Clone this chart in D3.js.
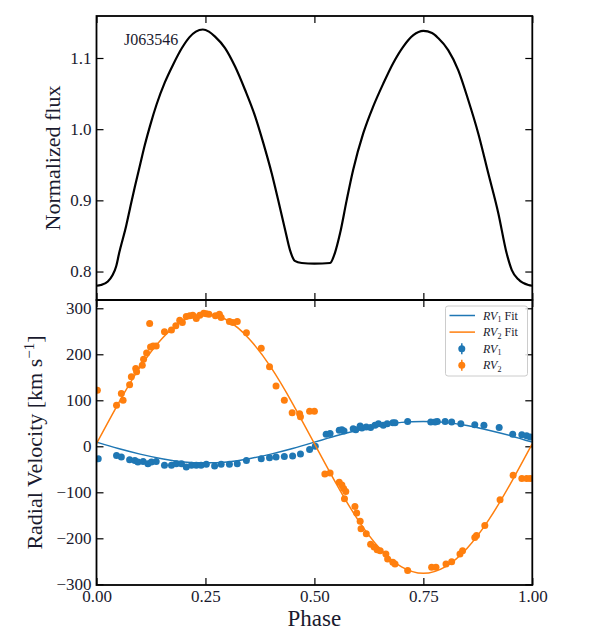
<!DOCTYPE html>
<html>
<head>
<meta charset="utf-8">
<script src="https://cdn.jsdelivr.net/npm/d3@7"></script>
<style>
  body { margin: 0; background: #fff; }
  svg text { font-family: "Liberation Serif", "DejaVu Serif", serif; fill: #1a1a2e; }
</style>
</head>
<body>
<svg id="chart" width="605" height="637"></svg>
<script>
// Light curve (phase, normalized flux)
var lcPhase = [0.000, 0.010, 0.026, 0.037, 0.045, 0.052, 0.068, 0.077, 0.088, 0.100, 0.111, 0.123, 0.138, 0.157, 0.176, 0.196, 0.213, 0.228, 0.244, 0.258, 0.272, 0.295, 0.318, 0.341, 0.364, 0.383, 0.402, 0.417, 0.433, 0.444, 0.455, 0.471, 0.500, 0.536, 0.547, 0.559, 0.574, 0.589, 0.612, 0.635, 0.658, 0.681, 0.704, 0.727, 0.750, 0.770, 0.784, 0.807, 0.830, 0.853, 0.876, 0.899, 0.922, 0.941, 0.953, 0.968, 0.991, 1.000];
var lcFlux  = [0.780, 0.781, 0.786, 0.795, 0.807, 0.826, 0.864, 0.889, 0.919, 0.950, 0.978, 1.005, 1.035, 1.066, 1.091, 1.114, 1.129, 1.137, 1.140, 1.137, 1.130, 1.114, 1.088, 1.055, 1.018, 0.980, 0.938, 0.900, 0.858, 0.830, 0.815, 0.812, 0.811, 0.812, 0.826, 0.854, 0.900, 0.943, 0.994, 1.032, 1.064, 1.093, 1.116, 1.132, 1.138, 1.135, 1.128, 1.111, 1.083, 1.041, 0.994, 0.938, 0.882, 0.826, 0.802, 0.789, 0.781, 0.780];

// Primary star RVs
var rv1Phase = [0.004, 0.046, 0.057, 0.076, 0.088, 0.095, 0.107, 0.118, 0.126, 0.137, 0.156, 0.172, 0.183, 0.195, 0.206, 0.218, 0.229, 0.240, 0.252, 0.271, 0.286, 0.305, 0.323, 0.344, 0.378, 0.397, 0.412, 0.431, 0.450, 0.468, 0.489, 0.502, 0.527, 0.536, 0.557, 0.563, 0.568, 0.589, 0.595, 0.605, 0.609, 0.619, 0.629, 0.639, 0.647, 0.658, 0.667, 0.680, 0.685, 0.714, 0.767, 0.777, 0.782, 0.800, 0.815, 0.836, 0.868, 0.889, 0.924, 0.955, 0.976, 0.987, 0.995];
var rv1Value = [-27, -20, -23, -29, -31, -34, -33, -38, -34, -33, -41, -41, -38, -38, -45, -41, -41, -41, -39, -43, -39, -39, -38, -31, -27, -25, -23, -22, -21, -17, -7, 0, 26, 28, 35, 36, 33, 38, 36, 44, 40, 42, 41, 46, 49, 46, 49, 51, 51, 54, 53, 53, 54, 54, 53, 49, 47, 46, 41, 26, 25, 23, 20];

// Secondary star RVs
var rv2Phase = [0.002, 0.046, 0.057, 0.061, 0.076, 0.080, 0.090, 0.092, 0.105, 0.108, 0.115, 0.122, 0.124, 0.130, 0.137, 0.156, 0.172, 0.182, 0.191, 0.197, 0.206, 0.214, 0.221, 0.229, 0.237, 0.246, 0.252, 0.258, 0.273, 0.282, 0.286, 0.305, 0.313, 0.323, 0.344, 0.378, 0.397, 0.412, 0.431, 0.449, 0.466, 0.468, 0.489, 0.500, 0.524, 0.536, 0.557, 0.563, 0.567, 0.572, 0.569, 0.593, 0.597, 0.605, 0.607, 0.619, 0.629, 0.637, 0.644, 0.651, 0.664, 0.668, 0.680, 0.685, 0.714, 0.769, 0.779, 0.802, 0.815, 0.834, 0.840, 0.868, 0.872, 0.891, 0.926, 0.956, 0.976, 0.987, 0.995];
var rv2Value = [122, 89, 115, 100, 134, 151, 169, 162, 176, 189, 203, 267, 216, 218, 218, 249, 253, 262, 274, 269, 282, 284, 285, 278, 285, 289, 288, 287, 284, 287, 280, 271, 269, 271, 247, 213, 173, 131, 100, 73, 71, 64, 76, 76, -60, -58, -78, -84, -92, -98, -114, -131, -145, -163, -179, -190, -213, -219, -225, -227, -234, -245, -252, -256, -270, -263, -263, -256, -251, -234, -227, -198, -194, -172, -116, -63, -70, -70, -70];

// Orbit fits at phase steps of 0.05
var fitPhase = [0, 0.05, 0.10, 0.15, 0.20, 0.25, 0.30, 0.35, 0.40, 0.45, 0.50, 0.55, 0.60, 0.65, 0.70, 0.75, 0.80, 0.85, 0.90, 0.95, 1.00];
var fit1 = [9, -5, -17, -27, -34, -36, -34, -27, -17, -5, 9, 23, 35, 45, 52, 54, 52, 45, 35, 23, 9];
var fit2 = [6, 93, 172, 234, 274, 288, 274, 234, 172, 93, 6, -81, -160, -222, -262, -276, -262, -222, -160, -81, 6];

var xTicks = [0, 0.25, 0.5, 0.75, 1.0];
var fluxTicks = [0.8, 0.9, 1.0, 1.1];
var rvTicks = [-300, -200, -100, 0, 100, 200, 300];

var blue = '#1f77b4', orange = '#ff7f0e';

var svg = d3.select('#chart');
var pLeft = 96.5, pRight = 532.3, pTop = 16, pMid = 300, pBottom = 585;
var tickLen = 7;

var x = d3.scaleLinear().domain([0, 1]).range([pLeft, pRight]);
var yFlux = d3.scaleLinear().domain([0.760, 1.159]).range([pMid, pTop]);
var yRV = d3.scaleLinear().domain([-301.5, 318]).range([pBottom, pMid]);

var minus = function(d) { return d < 0 ? '\u2212' + Math.abs(d) : String(d); };

// ---- Top panel: light curve
svg.append('clipPath').attr('id', 'clipTop')
	.append('rect').attr('x', pLeft).attr('y', pTop).attr('width', pRight - pLeft).attr('height', pMid - pTop);

var lcLine = d3.line()
	.x(function(d, i) { return x(lcPhase[i]); })
	.y(function(d) { return yFlux(d); })
	.curve(d3.curveMonotoneX);

svg.append('path')
	.datum(lcFlux)
	.attr('d', lcLine)
	.attr('fill', 'none')
	.attr('stroke', '#000')
	.attr('stroke-width', 2.2)
	.attr('clip-path', 'url(#clipTop)');

// ticks top panel
var gTop = svg.append('g');
gTop.append('g').attr('transform', 'translate(' + pLeft + ',0)')
	.call(d3.axisLeft(yFlux).tickValues(fluxTicks).tickSize(-tickLen).tickPadding(5).tickFormat(d3.format('.1f')));
gTop.append('g').attr('transform', 'translate(' + pRight + ',0)')
	.call(d3.axisRight(yFlux).tickValues(fluxTicks).tickSize(-tickLen).tickFormat(''));
gTop.append('g').attr('transform', 'translate(0,' + pTop + ')')
	.call(d3.axisTop(x).tickValues(xTicks).tickSize(-tickLen).tickFormat(''));
gTop.append('g').attr('transform', 'translate(0,' + pMid + ')')
	.call(d3.axisBottom(x).tickValues(xTicks).tickSize(-tickLen).tickFormat(''));

svg.append('text')
	.attr('x', 124).attr('y', 45)
	.style('font-size', '16px')
	.text('J063546');

svg.append('text')
	.attr('transform', 'translate(60,' + ((pTop + pMid) / 2) + ') rotate(-90)')
	.attr('text-anchor', 'middle')
	.style('font-size', '22px')
	.text('Normalized flux');

// ---- Bottom panel: radial velocities
var gBot = svg.append('g');
gBot.append('g').attr('transform', 'translate(' + pLeft + ',0)')
	.call(d3.axisLeft(yRV).tickValues(rvTicks).tickSize(-tickLen).tickPadding(5).tickFormat(minus));
gBot.append('g').attr('transform', 'translate(' + pRight + ',0)')
	.call(d3.axisRight(yRV).tickValues(rvTicks).tickSize(-tickLen).tickFormat(''));
gBot.append('g').attr('transform', 'translate(0,' + pMid + ')')
	.call(d3.axisTop(x).tickValues(xTicks).tickSize(-tickLen).tickFormat(''));
gBot.append('g').attr('transform', 'translate(0,' + pBottom + ')')
	.call(d3.axisBottom(x).tickValues(xTicks).tickSize(-tickLen).tickPadding(5).tickFormat(d3.format('.2f')));

svg.selectAll('.domain').remove();
svg.selectAll('.tick line').attr('stroke', '#000').attr('stroke-width', 1.2);
svg.selectAll('.tick text').style('font-size', '17px').style('font-family', '"Liberation Serif", serif').attr('fill', '#1a1a2e');

svg.append('clipPath').attr('id', 'clipBot')
	.append('rect').attr('x', pLeft).attr('y', pMid).attr('width', pRight - pLeft).attr('height', pBottom - pMid);

var plot = svg.append('g').attr('clip-path', 'url(#clipBot)');

plot.selectAll('.rv1').data(rv1Value).enter().append('circle')
	.attr('class', 'rv1')
	.attr('cx', function(d, i) { return x(rv1Phase[i]); })
	.attr('cy', function(d) { return yRV(d); })
	.attr('r', 3.5)
	.attr('fill', blue);

plot.selectAll('.rv2').data(rv2Value).enter().append('circle')
	.attr('class', 'rv2')
	.attr('cx', function(d, i) { return x(rv2Phase[i]); })
	.attr('cy', function(d) { return yRV(d); })
	.attr('r', 3.5)
	.attr('fill', orange);

var fitLine = d3.line()
	.x(function(d, i) { return x(fitPhase[i]); })
	.y(function(d) { return yRV(d); })
	.curve(d3.curveNatural);

plot.append('path').datum(fit1).attr('d', fitLine)
	.attr('fill', 'none').attr('stroke', blue).attr('stroke-width', 1.5);
plot.append('path').datum(fit2).attr('d', fitLine)
	.attr('fill', 'none').attr('stroke', orange).attr('stroke-width', 1.5);

svg.append('text')
	.attr('transform', 'translate(42,' + ((pMid + pBottom) / 2) + ') rotate(-90)')
	.attr('text-anchor', 'middle')
	.style('font-size', '22px')
	.html('Radial Velocity [km s<tspan dy="-8" font-size="15px">\u22121</tspan><tspan dy="8">]</tspan>');

svg.append('text')
	.attr('x', (pLeft + pRight) / 2).attr('y', 626)
	.attr('text-anchor', 'middle')
	.style('font-size', '23px')
	.text('Phase');

// frames
svg.append('rect').attr('x', pLeft).attr('y', pTop).attr('width', pRight - pLeft).attr('height', pMid - pTop)
	.attr('fill', 'none').attr('stroke', '#000').attr('stroke-width', 1.8);
svg.append('rect').attr('x', pLeft).attr('y', pMid).attr('width', pRight - pLeft).attr('height', pBottom - pMid)
	.attr('fill', 'none').attr('stroke', '#000').attr('stroke-width', 1.8);

// legend
var legend = svg.append('g');
legend.append('rect')
	.attr('x', 445.5).attr('y', 306).attr('width', 82).attr('height', 70)
	.attr('rx', 2.5)
	.attr('fill', 'rgba(255,255,255,0.85)')
	.attr('stroke', '#cccccc').attr('stroke-width', 1);

var legendItems = [
	{ kind: 'line', color: blue, sub: '1', fit: true },
	{ kind: 'line', color: orange, sub: '2', fit: true },
	{ kind: 'dot', color: blue, sub: '1', fit: false },
	{ kind: 'dot', color: orange, sub: '2', fit: false }
];
legendItems.forEach(function(item, i) {
	var yy = 315.5 + i * 16.6;
	if (item.kind == 'line') {
		legend.append('line').attr('x1', 449.5).attr('x2', 475).attr('y1', yy).attr('y2', yy)
			.attr('stroke', item.color).attr('stroke-width', 1.5);
	} else {
		legend.append('line').attr('x1', 461.8).attr('x2', 461.8).attr('y1', yy - 5.5).attr('y2', yy + 5.5)
			.attr('stroke', item.color).attr('stroke-width', 1.5);
		legend.append('circle').attr('cx', 461.8).attr('cy', yy).attr('r', 3.5).attr('fill', item.color);
	}
	var t = legend.append('text').attr('x', 483).attr('y', yy + 4).style('font-size', '12px');
	t.append('tspan').style('font-style', 'italic').text('RV');
	t.append('tspan').attr('dy', 2.5).style('font-size', '8px').text(item.sub);
	if (item.fit) { t.append('tspan').attr('dy', -2.5).text(' Fit'); }
});
</script>
</body>
</html>
